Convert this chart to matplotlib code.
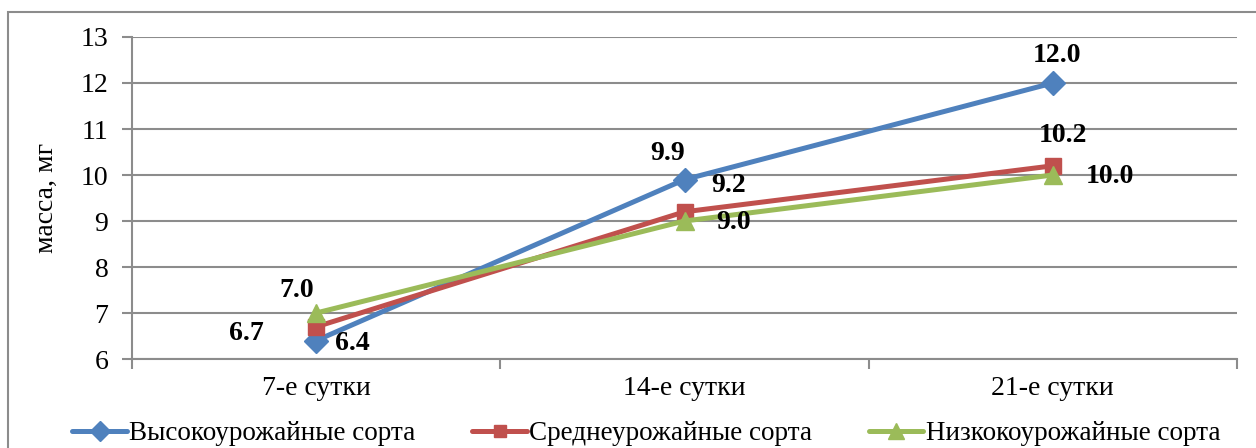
import matplotlib
matplotlib.use("Agg")
from matplotlib import pyplot as plt
from matplotlib.patches import Rectangle

plt.rcParams['font.family'] = ['Liberation Serif', 'DejaVu Serif']

days = ['7-е сутки', '14-е сутки', '21-е сутки']
high = [6.4, 9.9, 12.0]
mid = [6.7, 9.2, 10.2]
low = [7.0, 9.0, 10.0]
names = ['Высокоурожайные сорта', 'Среднеурожайные сорта', 'Низкокоурожайные сорта']

W, H = 1256, 448
fig = plt.figure(figsize=(W / 100, H / 100), dpi=100)
fig.patches.append(Rectangle((8 / W, -0.2), 1.2, (H - 12) / H + 0.2,
                             transform=fig.transFigure, fill=False,
                             edgecolor='#8c8c8c', linewidth=1.5))
ax = fig.add_axes([132 / W, 89 / H, 1105 / W, 322 / H])

x = list(range(len(days)))
grey = '#8c8c8c'
series = [
    (high, '#4F81BD', 'D', 12),
    (mid, '#C0504D', 's', 11),
    (low, '#9BBB59', '^', 13),
]
for (vals, col, mk, ms), name in zip(series, names):
    ax.plot(x, vals, color=col, lw=3.6, marker=mk, markersize=ms,
            label=name, solid_capstyle='round')

# value labels: (series, point) -> offset in points
offsets = {
    (0, 0): (26, -2), (0, 1): (-12, 19), (0, 2): (3, 20),
    (1, 0): (-50, -5), (1, 1): (32, 19), (1, 2): (7, 22),
    (2, 0): (-14, 16), (2, 1): (35, -1), (2, 2): (41, -1),
}
for si, (vals, col, mk, ms) in enumerate(series):
    for pi, v in enumerate(vals):
        dx, dy = offsets[(si, pi)]
        ax.annotate(f'{v:.1f}', (x[pi], v), xytext=(dx, dy),
                    textcoords='offset points', ha='center', va='center',
                    fontsize=20, fontweight='bold')

ax.set_xlim(-0.5, 2.5)
ax.set_ylim(6, 13)
ax.set_yticks(range(6, 14))
ax.set_xticks(x)
ax.set_xticklabels(days)
ax.set_xticks([-0.5, 0.5, 1.5, 2.5], minor=True)
ax.tick_params(axis='x', which='major', length=0, pad=12, labelsize=20)
ax.tick_params(axis='x', which='minor', length=7, width=1.5, color=grey)
ax.tick_params(axis='y', length=7, width=1.5, color=grey, labelsize=20, pad=10)
ax.yaxis.grid(True, color=grey, lw=1.5)
ax.set_axisbelow(True)
for s in ['top', 'right']:
    ax.spines[s].set_visible(False)
for s in ['left', 'bottom']:
    ax.spines[s].set_color(grey)
    ax.spines[s].set_linewidth(1.5)
ax.set_ylabel('масса, мг', fontsize=20, labelpad=16)

ax.legend(loc='upper center', bbox_to_anchor=(0.5 - 38 / 1105, -0.16), ncol=3,
          frameon=False, fontsize=19.5, handlelength=2.0, handletextpad=0.1,
          columnspacing=2.1, borderaxespad=0, markerscale=0.85)

fig.savefig('out.png', dpi=100)
